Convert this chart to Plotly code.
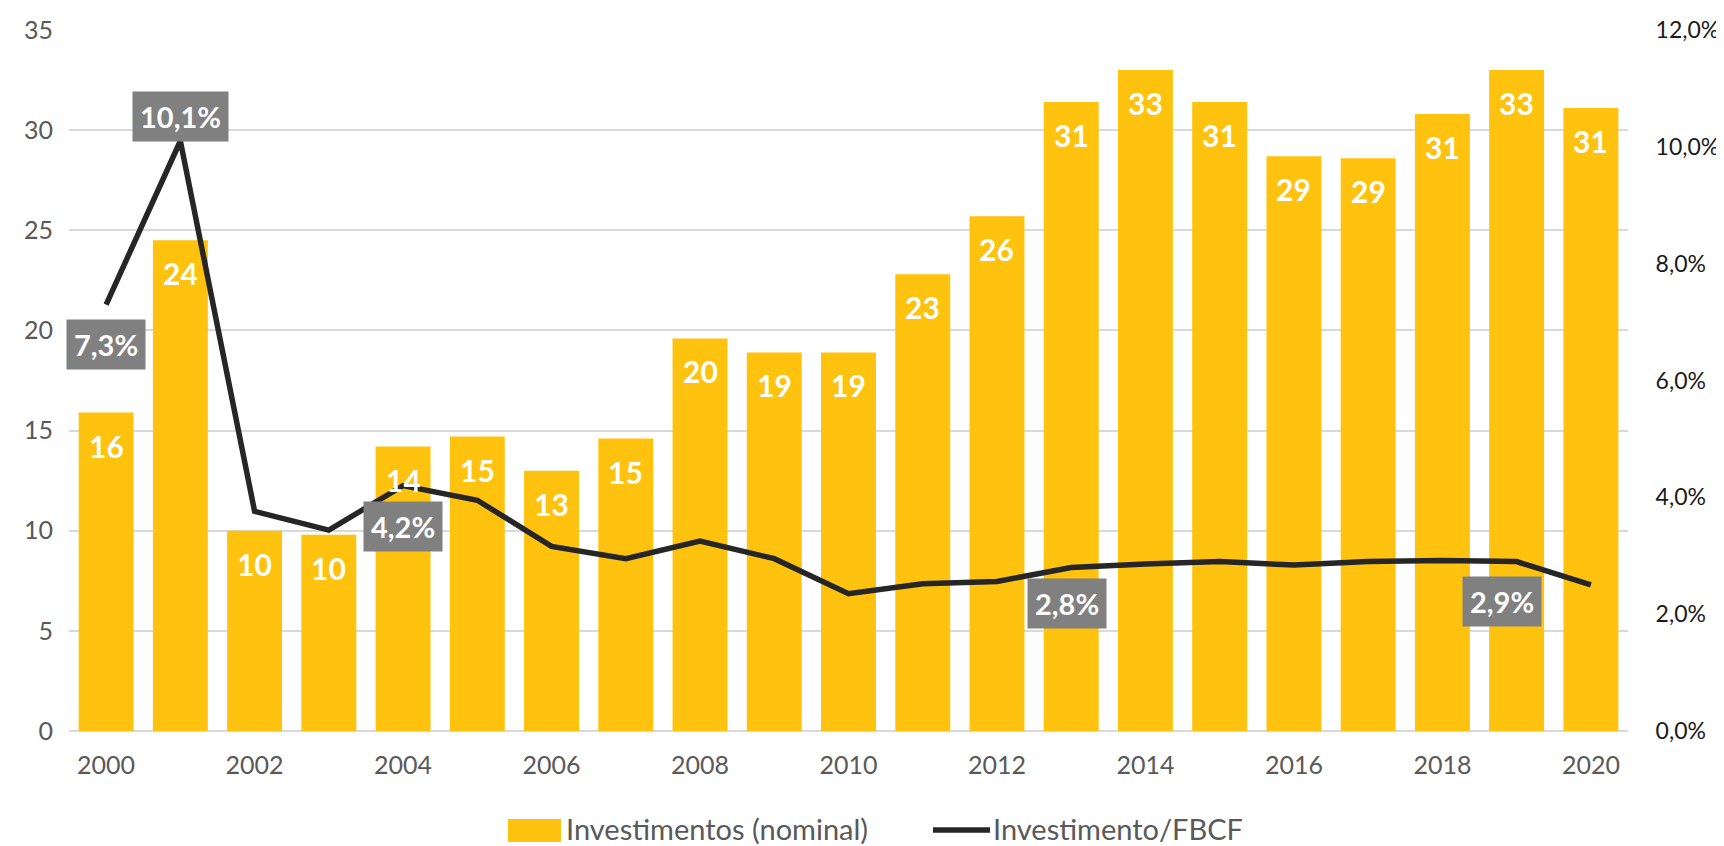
import plotly.graph_objects as go

years = list(range(2000, 2021))
invest_nominal = [15.9, 24.5, 10.0, 9.8, 14.2, 14.7, 13.0, 14.6, 19.6, 18.9, 18.9,
                  22.8, 25.7, 31.4, 33.0, 31.4, 28.7, 28.6, 30.8, 33.0, 31.1]
invest_fbcf = [7.3, 10.1, 3.76, 3.44, 4.2, 3.95, 3.16, 2.95, 3.25, 2.95, 2.35,
               2.52, 2.56, 2.8, 2.86, 2.9, 2.84, 2.9, 2.92, 2.9, 2.5]
label_years = [2000, 2001, 2004, 2013, 2019]
label_shift_y = [-40, 24, -41, -36, -40]
label_shift_x = [0, 0, 0, -4, -15]

left_ticks = [0, 5, 10, 15, 20, 25, 30, 35]
right_ticks = [0, 2, 4, 6, 8, 10, 12]
right_tick_text = ["0,0%", "2,0%", "4,0%", "6,0%", "8,0%", "10,0%", "12,0%"]
x_ticks = list(range(2000, 2021, 2))
legend_names = ["Investimentos (nominal)", "Investimento/FBCF"]

FONT = "Lato"
TICK_COLOR = "#595959"
BAR_COLOR = "#FFC20E"
LINE_COLOR = "#262626"

# figure geometry (page body adds an 8px offset)
W, H = 1716, 838
ML, MR, MT, MB = 61, 96, 22, 115
PW, PH = W - ML - MR, H - MT - MB


def px(x):
    return (x - ML) / PW


def py(y):
    return (H - MB - y) / PH


fig = go.Figure()
fig.add_trace(go.Bar(
    x=years, y=invest_nominal, name=legend_names[0],
    marker=dict(color=BAR_COLOR, line=dict(width=0)),
    yaxis="y", showlegend=False,
))
fig.add_trace(go.Scatter(
    x=years, y=invest_fbcf, name=legend_names[1], mode="lines",
    line=dict(color=LINE_COLOR, width=5.5),
    yaxis="y2", showlegend=False,
))

# bar value labels (white, bold, near top inside the bar)
for yr, v in zip(years, invest_nominal):
    fig.add_annotation(
        x=yr, y=v, xref="x", yref="y", text=f"{v:.0f}",
        showarrow=False, yanchor="middle", yshift=-33,
        font=dict(family=FONT, size=30, color="white", weight="bold"),
    )

# ratio labels
for yr, dy, dx in zip(label_years, label_shift_y, label_shift_x):
    v = invest_fbcf[years.index(yr)]
    fig.add_annotation(
        x=yr, y=v, xref="x", yref="y2",
        text=f"{v:.1f}%".replace(".", ","),
        showarrow=False, yshift=dy, xshift=dx,
        bgcolor="#808080", borderpad=7,
        font=dict(family=FONT, size=29, color="white", weight="bold"),
    )

# custom legend
LEG_Y = 820
fig.add_shape(type="rect", xref="paper", yref="paper",
              x0=px(500), x1=px(553), y0=py(834), y1=py(811),
              fillcolor=BAR_COLOR, line=dict(width=0))
fig.add_annotation(xref="paper", yref="paper", x=px(557), y=py(LEG_Y),
                   xanchor="left", yanchor="middle", showarrow=False,
                   text=legend_names[0], borderpad=0,
                   font=dict(family=FONT, size=29, color=TICK_COLOR))
fig.add_shape(type="line", xref="paper", yref="paper",
              x0=px(925), x1=px(982), y0=py(822), y1=py(822),
              line=dict(color=LINE_COLOR, width=5.5))
fig.add_annotation(xref="paper", yref="paper", x=px(984), y=py(LEG_Y),
                   xanchor="left", yanchor="middle", showarrow=False,
                   text=legend_names[1], borderpad=0,
                   font=dict(family=FONT, size=29, color=TICK_COLOR))

fig.update_layout(
    width=W, height=H,
    margin=dict(l=ML, r=MR, t=MT, b=MB, autoexpand=False),
    plot_bgcolor="white", paper_bgcolor="white",
    bargap=0.26,
    showlegend=False,
    xaxis=dict(
        range=[1999.5, 2020.5], automargin=False,
        tickvals=x_ticks, ticktext=[str(t) for t in x_ticks],
        tickfont=dict(family=FONT, size=25, color=TICK_COLOR),
        ticks="outside", ticklen=12, tickcolor="rgba(0,0,0,0)",
        showgrid=False, showline=False, zeroline=False,
    ),
    yaxis=dict(
        range=[0, 35], tickvals=left_ticks, automargin=False,
        tickfont=dict(family=FONT, size=25, color=TICK_COLOR),
        ticks="outside", ticklen=10, tickcolor="rgba(0,0,0,0)",
        showgrid=True, gridcolor="#D9D9D9", gridwidth=1.5,
        zeroline=True, zerolinecolor="#D9D9D9", zerolinewidth=1.5,
        showline=False,
    ),
    yaxis2=dict(
        range=[0, 12], tickvals=right_ticks, ticktext=right_tick_text,
        overlaying="y", side="right", automargin=False,
        tickfont=dict(family=FONT, size=23, color="#1a1a1a"),
        ticks="outside", ticklen=22, tickcolor="rgba(0,0,0,0)",
        showgrid=False, zeroline=False, showline=False,
    ),
    font=dict(family=FONT),
)

fig.write_html("out.html")
